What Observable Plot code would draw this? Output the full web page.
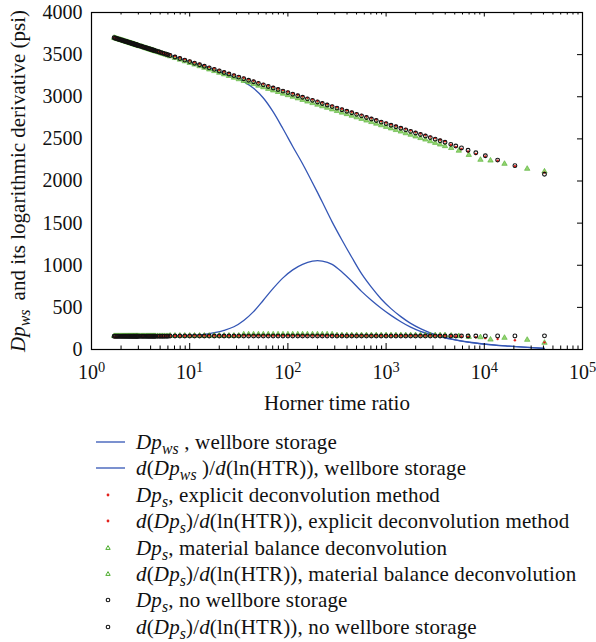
<!DOCTYPE html>
<html><head><meta charset="utf-8">
<script src="https://cdn.jsdelivr.net/npm/d3@7"></script>
<script src="https://cdn.jsdelivr.net/npm/@observablehq/plot@0.6"></script>
<style>
body{margin:0;background:#fff;font-family:"Liberation Serif",serif;}
#wrap{position:relative;width:596px;height:642px;overflow:hidden;}
#chart{position:absolute;left:0;top:0;}
.row{position:absolute;left:0;height:26px;width:596px;font-size:21px;letter-spacing:0.15px;line-height:26px;color:#111;white-space:nowrap;}
.row svg{position:absolute;left:90px;top:0;}
.row span{position:absolute;left:136px;top:0;}
sub{font-size:0.75em;vertical-align:-0.3em;line-height:0;}
</style></head><body>
<div id="wrap"><div id="chart"></div><div id="legend"></div></div>
<script>
// ---------- data ----------
const xTicks = [1, 10, 100, 1000, 10000, 100000];
const xTickExps = ["0", "1", "2", "3", "4", "5"];
const yTicks = [0, 500, 1000, 1500, 2000, 2500, 3000, 3500, 4000];
const xTitle = "Horner time ratio";
const yTitle = "Dp_ws and its logarithmic derivative (psi)";

// Horner time ratio grid of the explicit-deconvolution and no-wellbore-storage points
const htrS = [1.70,1.75,1.80,1.85,1.90,1.95,2.00,2.05,2.10,2.15,2.20,2.25,2.30,2.35,2.40,2.45,2.50,2.55,2.60,2.65,2.70,2.75,2.80,2.85,2.90,2.95,3.00,3.1,3.2,3.3,3.4,3.5,3.6,3.7,3.8,3.9,4.0,4.1,4.2,4.3,4.4,4.5,4.7,4.9,5.1,5.3,5.5,5.75,6.0,
 6.31,7.08,7.94,8.91,10.0,11.2,12.6,14.1,15.8,17.8,20.0,22.4,25.1,28.2,31.6,35.5,39.8,44.7,50.1,56.2,63.1,70.8,79.4,89.1,100,112,126,141,158,178,200,224,251,282,316,355,398,447,501,562,631,708,794,891,1000,1122,1259,1413,1585,1778,1995,2239,2512,2818,3162,3548,3981,
 4556,5125,5857,6833,8200,10250,13667,20500,41000];

// Dp_s, no wellbore storage (black circles)
const dpNoWBS = [3700,3695,3691,3686,3682,3678,3674,3670,3666,3662,3659,3655,3652,3648,3645,3642,3638,3635,3632,3629,3626,3623,3620,3617,3615,3612,3609,3604,3599,3594,3589,3585,3580,3576,3571,3567,3563,3559,3555,3552,3548,3544,3537,3531,3524,3518,3512,3505,3498,
 3490,3472,3454,3435,3417,3398,3380,3362,3343,3325,3306,3288,3270,3251,3233,3214,3196,3178,3159,3141,3122,3104,3086,3067,3049,3030,3012,2994,2975,2957,2938,2920,2902,2883,2865,2846,2828,2810,2791,2773,2754,2736,2718,2699,2681,2662,2644,2626,2607,2589,2570,2552,2534,2515,2497,2478,2460,
 2435,2415,2392,2365,2335,2300,2248,2182,2080];
const derivNoWBS = [158,158,158,158,158,158,158,158,158,158,158,158,158,158,158,158,158,158,158,158,158,158,158,158,158,158,158,158,158,158,158,158,158,158,158,158,158,158,158,158,158,158,158,158,158,158,158,158,158,
 160,160,160,160,160,160,160,160,160,160,160,160,160,160,160,160,160,160,160,160,160,160,160,160,160,160,160,160,160,160,160,160,160,160,160,160,160,160,160,160,160,160,160,160,160,160,160,160,160,160,160,160,160,160,160,160,160,
 160,160,160,160,160,161,161,161,162];

// Dp_s, explicit deconvolution method (red dots)
const dpExplicit = [3704,3699,3695,3690,3686,3682,3678,3674,3670,3666,3663,3659,3656,3652,3649,3646,3642,3639,3636,3633,3630,3627,3624,3621,3619,3616,3613,3608,3603,3598,3593,3589,3584,3580,3575,3571,3567,3563,3559,3556,3552,3548,3541,3535,3528,3522,3516,3509,3502,
 3502,3484,3466,3447,3429,3410,3392,3374,3355,3337,3318,3300,3282,3263,3245,3226,3208,3190,3171,3153,3134,3116,3098,3079,3061,3042,3024,3006,2987,2969,2950,2932,2914,2895,2877,2858,2840,2822,2803,2785,2766,2748,2730,2711,2693,2674,2656,2638,2619,2601,2582,2564,2546,2527,2509,2490,2472,
 2430,2405,2380,2350,2320,2290,2240,2175,2100];
const derivExplicit = [148,148,149,149,150,150,151,151,152,152,153,153,154,154,155,155,156,156,157,157,158,158,158,158,158,158,158,158,158,158,158,158,158,158,158,158,158,158,158,158,158,158,158,158,158,158,158,158,158,
 163,163,163,163,165,165,165,165,165,165,165,165,165,165,165,165,165,165,165,165,165,165,165,165,165,165,165,165,165,165,165,165,165,165,165,165,165,165,165,165,165,165,165,165,165,165,165,165,165,165,165,165,165,165,165,165,165,
 160,158,155,150,145,135,125,110,85];

// Dp_s, material balance deconvolution (green triangles)
const htrMB = [1.70,1.75,1.80,1.85,1.90,1.95,2.00,2.05,2.10,2.15,2.20,2.25,2.30,2.35,2.40,2.45,2.50,2.55,2.60,2.65,2.70,2.75,2.80,2.85,2.90,2.95,3.00,3.1,3.2,3.3,3.4,3.5,3.6,3.7,3.8,3.9,4.0,4.1,4.2,4.3,4.4,4.5,4.7,4.9,5.1,5.3,5.5,5.75,6.0,
 6.31,7.08,7.94,8.91,10.0,11.2,12.6,14.1,15.8,17.8,20.0,22.4,25.1,28.2,31.6,35.5,39.8,44.7,50.1,56.2,63.1,70.8,79.4,89.1,100,112,126,141,158,178,200,224,251,282,316,355,398,447,501,562,631,708,794,891,1000,1122,1259,1413,1585,1778,1995,2239,2512,2818,3162,3548,3981,
 4600,5500,6950,9140,11560,16060,27350,41000];
const dpMB = [3700,3695,3690,3685,3681,3677,3673,3669,3665,3661,3657,3653,3650,3646,3643,3640,3636,3633,3630,3627,3623,3620,3617,3614,3612,3609,3606,3601,3596,3591,3586,3581,3576,3572,3567,3563,3559,3555,3551,3547,3543,3539,3532,3525,3518,3512,3506,3498,3490,
 3480,3460,3441,3421,3402,3382,3363,3344,3324,3305,3285,3266,3247,3227,3208,3188,3170,3151,3132,3113,3094,3075,3057,3037,3019,3000,2981,2963,2943,2925,2906,2887,2869,2850,2831,2812,2794,2775,2756,2738,2718,2700,2681,2662,2643,2624,2605,2587,2567,2549,2529,2510,2492,2472,2453,2433,2414,
 2392,2360,2310,2252,2243,2204,2145,2113];
const derivMB = [160,160,160,160,160,160,160,160,160,160,160,160,160,160,160,160,160,160,160,160,160,160,160,160,160,160,160,160,160,160,160,160,160,160,160,160,160,160,160,160,160,160,160,160,160,160,160,160,160,
 165,165,165,165,165,165,165,165,165,165,165,165,165,165,165,
 180,180,180,180,180,180,180,180,180,180,180,180,180,180,180,180,180,180,180,
 170,170,170,170,170,170,170,170,170,170,170,170,170,170,170,170,170,170,170,170,170,170,170,
 165,160,150,146,118,139,115,80];

// Dp_ws with wellbore storage (blue lines)
const htrWS = [1.7,2.5,4,6.3,10,14.1,17.8,22.4,28.2,35.5,44.7,56.2,70.8,89.1,112,141,178,200,224,282,355,447,562,708,891,1122,1413,1778,2239,2818,3548,4467,5623,7079,8913,12589,17783,25119,41000];
const dpWS = [3700,3638,3563,3490,3417,3360,3320,3278,3235,3180,3100,2985,2820,2620,2410,2205,1980,1865,1750,1515,1300,1095,900,740,600,485,390,310,248,198,160,129,105,86,71,54,41,29,14];
const derivWS = [160,160,160,161,166,180,200,228,270,345,450,585,725,850,945,1010,1048,1055,1050,1010,920,810,690,585,490,405,330,265,215,180,150,125,102,84,70,53,40,28,14];

const legendLabels = [
  '<i>Dp</i><sub><i>ws</i></sub> , wellbore storage',
  '<i>d</i>(<i>Dp</i><sub><i>ws</i></sub> )/<i>d</i>(ln(HTR)), wellbore storage',
  '<i>Dp</i><sub><i>s</i></sub>, explicit deconvolution method',
  '<i>d</i>(<i>Dp</i><sub><i>s</i></sub>)/<i>d</i>(ln(HTR)), explicit deconvolution method',
  '<i>Dp</i><sub><i>s</i></sub>, material balance deconvolution',
  '<i>d</i>(<i>Dp</i><sub><i>s</i></sub>)/<i>d</i>(ln(HTR)), material balance deconvolution',
  '<i>Dp</i><sub><i>s</i></sub>, no wellbore storage',
  '<i>d</i>(<i>Dp</i><sub><i>s</i></sub>)/<i>d</i>(ln(HTR)), no wellbore storage'
];
const legendKinds = ["line", "line", "red", "red", "tri", "tri", "circ", "circ"];

// ---------- drawing ----------
const BLUE = "#3456b5", RED = "#e3211c", GREEN_F = "#93d36f", GREEN_S = "#4fae2f";
const zip = (xs, ys) => xs.map((x, i) => ({x, y: ys[i]}));
const xMinor = [];
for (let e = 0; e < 5; e++) for (let m = 2; m <= 9; m++) xMinor.push(m * 10 ** e);
const xInner = xTicks.filter(t => t > 1 && t < 1e5);
const yInner = yTicks.filter(t => t > 0 && t < 4000);

const chart = Plot.plot({
  width: 596, height: 420,
  marginLeft: 91, marginRight: 14, marginTop: 12, marginBottom: 71,
  style: {fontFamily: "Liberation Serif, serif", fontSize: "20px", background: "white", color: "#111"},
  x: {type: "log", domain: [1, 1e5]},
  y: {domain: [0, 4000]},
  marks: [
    Plot.line(zip(htrWS, dpWS), {x: "x", y: "y", stroke: BLUE, strokeWidth: 1.3, curve: "monotone-x"}),
    Plot.line(zip(htrWS, derivWS), {x: "x", y: "y", stroke: BLUE, strokeWidth: 1.3, curve: "monotone-x"}),
    Plot.dot(zip(htrMB, dpMB), {x: "x", y: "y", symbol: "triangle", r: 2, fill: GREEN_F, stroke: GREEN_S, strokeWidth: 0.6}),
    Plot.dot(zip(htrMB, derivMB), {x: "x", y: "y", symbol: "triangle", r: 2, fill: GREEN_F, stroke: GREEN_S, strokeWidth: 0.6}),
    Plot.dot(zip(htrS, dpExplicit), {x: "x", y: "y", r: 1.2, fill: RED, stroke: null}),
    Plot.dot(zip(htrS, derivExplicit), {x: "x", y: "y", r: 1.2, fill: RED, stroke: null}),
    Plot.dot(zip(htrS, dpNoWBS), {x: "x", y: "y", r: 1.9, fill: "none", stroke: "#111", strokeWidth: 1.1}),
    Plot.dot(zip(htrS, derivNoWBS), {x: "x", y: "y", r: 1.9, fill: "none", stroke: "#111", strokeWidth: 1.1}),
    Plot.frame({stroke: "#000", strokeWidth: 1.2}),
    Plot.ruleX(xInner, {stroke: "#000", insetTop: 331}),
    Plot.ruleX(xMinor, {stroke: "#000", insetTop: 333.5}),
    Plot.ruleX(xInner, {stroke: "#000", insetBottom: 332.5}),
    Plot.ruleX(xMinor, {stroke: "#000", insetBottom: 334.5}),
    Plot.ruleY(yInner, {stroke: "#000", insetLeft: 486}),
    Plot.axisY(yTicks, {tickSize: 0, tickPadding: 9, tickFormat: d => String(d), label: null}),
    Plot.axisX(xTicks, {tickSize: 0, tickPadding: 15, tickFormat: d => "10^" + xTickExps[xTicks.indexOf(d)], label: null}),
    Plot.text([xTitle], {text: d => d, frameAnchor: "bottom", dy: 60, fontSize: 21}),
    Plot.text([yTitle], {text: d => d, frameAnchor: "left", textAnchor: "middle", dx: -73, rotate: -90, fontSize: 21})
  ]
});
document.getElementById("chart").appendChild(chart);

const NS = "http://www.w3.org/2000/svg";
const svgEl = chart.tagName.toLowerCase() === "svg" ? chart : chart.querySelector("svg");
// superscript exponents on the x tick labels
svgEl.querySelectorAll('[aria-label="x-axis tick label"] text').forEach(t => {
  const [b, e] = t.textContent.split("^");
  t.textContent = b;
  const s = document.createElementNS(NS, "tspan");
  s.setAttribute("dy", "-0.45em");
  s.setAttribute("font-size", "0.72em");
  s.textContent = e;
  t.appendChild(s);
});
// italic / subscript on the y title
svgEl.querySelectorAll("text").forEach(t => {
  if (t.textContent !== yTitle) return;
  const rest = yTitle.split(" ").slice(1).join(" ");
  t.textContent = "";
  const a = document.createElementNS(NS, "tspan");
  a.setAttribute("font-style", "italic"); a.textContent = "Dp";
  const b = document.createElementNS(NS, "tspan");
  b.setAttribute("font-style", "italic"); b.setAttribute("font-size", "16"); b.setAttribute("dy", "5"); b.textContent = "ws";
  const c = document.createElementNS(NS, "tspan");
  c.setAttribute("dy", "-5"); c.setAttribute("dx", "9"); c.textContent = rest;
  t.append(a, b, c);
});

// ---------- legend ----------
const legend = document.getElementById("legend");
legendLabels.forEach((lab, i) => {
  const row = document.createElement("div");
  row.className = "row";
  row.style.top = (429 + i * 26.4) + "px";
  let mark = "";
  const k = legendKinds[i];
  if (k === "line") mark = `<line x1="6" x2="35" y1="13" y2="13" stroke="${BLUE}" stroke-width="1.3"/>`;
  if (k === "red") mark = `<circle cx="18" cy="13" r="1.4" fill="${RED}"/>`;
  if (k === "tri") mark = `<path d="M18,10.6L20.2,14.4L15.8,14.4Z" fill="none" stroke="${GREEN_S}" stroke-width="1"/>`;
  if (k === "circ") mark = `<circle cx="18" cy="13" r="1.8" fill="none" stroke="#111" stroke-width="1.1"/>`;
  row.innerHTML = `<svg width="44" height="26">${mark}</svg><span>${lab}</span>`;
  legend.appendChild(row);
});
</script></body></html>
